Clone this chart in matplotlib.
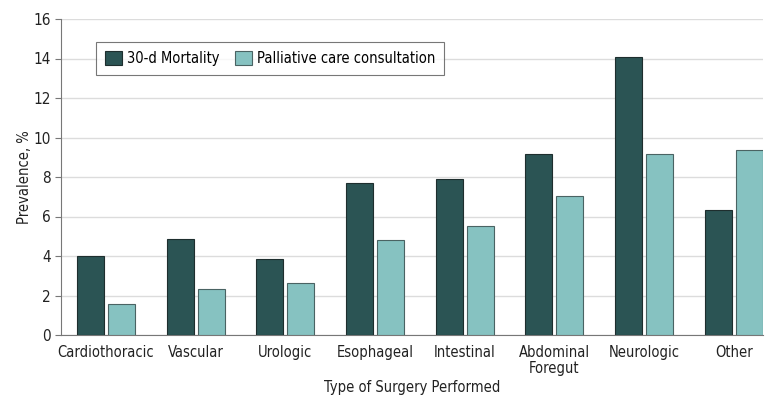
import matplotlib
matplotlib.use('Agg')
import matplotlib.pyplot as plt
import numpy as np

categories = ['Cardiothoracic', 'Vascular', 'Urologic', 'Esophageal',
              'Intestinal', 'Abdominal\nForegut', 'Neurologic', 'Other']
mortality = [4.0, 4.85, 3.86, 7.68, 7.9, 9.15, 14.06, 6.31]
palliative = [1.57, 2.33, 2.63, 4.81, 5.52, 7.04, 9.15, 9.35]
yticks = [0, 2, 4, 6, 8, 10, 12, 14, 16]

plt.rcParams['font.family'] = ['DejaVu Sans']
plt.rcParams['font.stretch'] = 'condensed'
fs = 10.5

fig = plt.figure(figsize=(7.8, 4.05), dpi=100)
ax = fig.add_axes([61/780, 1 - 335/405, 702/780, 316/405])

x = np.arange(len(categories))
w = 0.30
off = 0.173
ax.bar(x - off, mortality, w, color='#2b5454', edgecolor='#1e2e2e', linewidth=0.8,
       label='30-d Mortality', zorder=3)
ax.bar(x + off, palliative, w, color='#86c2c1', edgecolor='#4a6363', linewidth=0.8,
       label='Palliative care consultation', zorder=3)

ax.set_xlim(-0.5, 7.325)
ax.set_ylim(0, 16)
ax.set_yticks(yticks)
ax.set_xticks(x)
ax.set_xticklabels(categories, fontsize=fs, color='#222222', linespacing=1.1)
ax.tick_params(axis='x', length=0, pad=7)
ax.tick_params(axis='y', length=4, color='#777777', labelsize=fs + 0.5, labelcolor='#222222')
ax.yaxis.grid(True, color='#dcdcdc', linewidth=1, zorder=0)
for s in ['top', 'right']:
    ax.spines[s].set_visible(False)
ax.spines['left'].set_color('#777777')
ax.spines['bottom'].set_color('#777777')

ax.set_ylabel('Prevalence, %', fontsize=fs, color='#222222', labelpad=1)
ax.set_xlabel('Type of Surgery Performed', fontsize=fs, color='#222222', labelpad=3)

leg = ax.legend(loc='upper left', bbox_to_anchor=(35/702, 1 - 23/316), ncol=2,
                fontsize=fs, frameon=True, fancybox=False, borderpad=0.6,
                handlelength=1.15, handleheight=1.15, columnspacing=1.1, handletextpad=0.35,
                borderaxespad=0)
leg.get_frame().set_edgecolor('#555555')
leg.get_frame().set_linewidth(0.8)

fig.savefig('out.png', dpi=100)
